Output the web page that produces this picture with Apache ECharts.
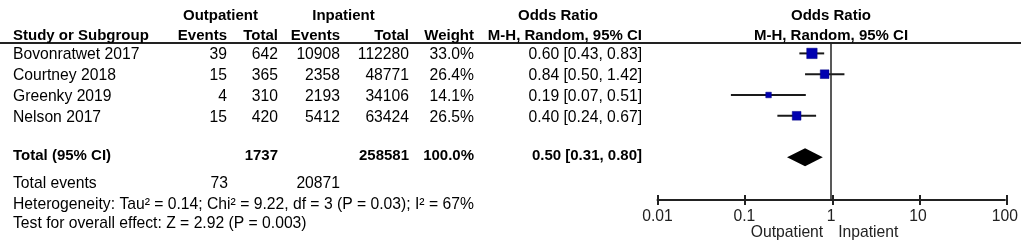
<!DOCTYPE html>
<html><head><meta charset="utf-8">
<script src="https://cdn.jsdelivr.net/npm/echarts@6/dist/echarts.min.js"></script>
<style>html,body{margin:0;padding:0;background:#fff}#c{width:1021px;height:252px}</style>
</head><body><div id="c"></div>
<script>
// ---- data ----
const studies = ['Bovonratwet 2017', 'Courtney 2018', 'Greenky 2019', 'Nelson 2017'];
const outEvents = [39, 15, 4, 15];
const outTotal = [642, 365, 310, 420];
const inEvents = [10908, 2358, 2193, 5412];
const inTotal = [112280, 48771, 34106, 63424];
const weights = [33.0, 26.4, 14.1, 26.5];
const orVal = [0.60, 0.84, 0.19, 0.40];
const ciLow = [0.43, 0.50, 0.07, 0.24];
const ciHigh = [0.83, 1.42, 0.51, 0.67];
const totalLabel = 'Total (95% CI)';
const totalOut = 1737;
const totalIn = 258581;
const totalWeight = 100.0;
const pooled = [0.50, 0.31, 0.80]; // estimate, low, high
const totalEventsOut = 73;
const totalEventsIn = 20871;
const heterogeneityText = 'Heterogeneity: Tau\u00b2 = 0.14; Chi\u00b2 = 9.22, df = 3 (P = 0.03); I\u00b2 = 67%';
const overallText = 'Test for overall effect: Z = 2.92 (P = 0.003)';
const tickLabels = ['0.01', '0.1', '1', '10', '100'];
const favourLeft = 'Outpatient';
const favourRight = 'Inpatient';

// ---- helpers ----
const FONT = '"Liberation Sans", Arial, sans-serif';
const FS = 15;     // bold
const FSR = 15.7;  // regular
const fmt2 = v => v.toFixed(2);
const orText = (e, l, h) => fmt2(e) + ' [' + fmt2(l) + ', ' + fmt2(h) + ']';
const totalRow = studies.length + 1;

const chart = echarts.init(document.getElementById('c'), null, {renderer: 'canvas'});

const studyData = studies.map((s, i) => [i, orVal[i], ciLow[i], ciHigh[i], weights[i]]);
const diamondData = [[totalRow, pooled[0], pooled[1], pooled[2]]];

chart.setOption({
  animation: false,
  backgroundColor: '#fff',
  grid: [
    {left: 657.5, width: 349.5, top: 43, height: 157, containLabel: false},
    {left: 657.5, width: 349.5, top: 195, height: 10, containLabel: false}
  ],
  xAxis: [
    {
      type: 'log', logBase: 10, min: 0.01, max: 100, gridIndex: 0, position: 'bottom',
      splitLine: {show: false}, minorTick: {show: false},
      axisLine: {show: true, onZero: false, lineStyle: {color: '#222', width: 2}},
      axisTick: {show: false},
      axisLabel: {
        show: true, margin: 9, color: '#222', fontFamily: FONT, fontSize: FSR,
        formatter: v => tickLabels[Math.round(Math.log10(v)) + 2]
      }
    },
    {
      type: 'log', logBase: 10, min: 0.01, max: 100, gridIndex: 1,
      axisLine: {show: false, onZero: false}, axisTick: {show: false}, axisLabel: {show: false},
      minorTick: {show: false},
      splitLine: {show: true, showMinLine: true, showMaxLine: true,
        lineStyle: {color: '#222', width: 2}}
    }
  ],
  yAxis: [
    {type: 'value', inverse: true, min: -0.5, max: 7.05, show: false, gridIndex: 0},
    {type: 'value', min: 0, max: 1, show: false, gridIndex: 1}
  ],
  series: [
    {
      type: 'custom', xAxisIndex: 0, yAxisIndex: 0, data: studyData,
      encode: {x: [1, 2, 3], y: 0},
      renderItem: (params, api) => {
        const row = api.value(0);
        const c = api.coord([api.value(1), row]);
        const l = api.coord([api.value(2), row]);
        const h = api.coord([api.value(3), row]);
        const s = 2 + 0.255 * api.value(4);
        return {
          type: 'group',
          children: [
            {type: 'line', shape: {x1: l[0], y1: c[1], x2: h[0], y2: c[1]},
             style: {stroke: '#1a1a1a', lineWidth: 2}},
            {type: 'rect', shape: {x: c[0] - s / 2, y: c[1] - s / 2, width: s, height: s},
             style: {fill: '#0000b0', stroke: '#000080', lineWidth: 0.5}}
          ]
        };
      },
      markLine: {
        silent: true, symbol: 'none', label: {show: false},
        lineStyle: {color: '#222', width: 1.5, type: 'solid'},
        data: [{xAxis: 1}]
      },
      z: 3
    },
    {
      type: 'custom', xAxisIndex: 0, yAxisIndex: 0, data: diamondData,
      encode: {x: [1, 2, 3], y: 0},
      renderItem: (params, api) => {
        const row = api.value(0);
        const e = api.coord([api.value(1), row]);
        const l = api.coord([api.value(2), row]);
        const h = api.coord([api.value(3), row]);
        const hh = 9;
        return {
          type: 'polygon',
          shape: {points: [[l[0], e[1]], [e[0], e[1] - hh], [h[0], e[1]], [e[0], e[1] + hh]]},
          style: {fill: '#000'}
        };
      },
      z: 3
    }
  ]
});

// ---- table text ----
function txt(text, x, y, align, bold, color) {
  return {
    type: 'text', silent: true, z: 10,
    style: {
      text: String(text), x: x, y: y,
      align: align || 'left', verticalAlign: 'middle',
      textAlign: align || 'left', textVerticalAlign: 'middle',
      font: (bold ? 'bold ' + FS : FSR) + 'px ' + FONT,
      fill: color || '#000'
    }
  };
}
const rowY = i => chart.convertToPixel({xAxisIndex: 0, yAxisIndex: 0}, [1, i])[1];

const COL = {name: 13, oe: 227, ot: 278, ie: 340, it: 409, w: 474, or: 642};
const els = [];
// headers
els.push(txt('Outpatient', 220.5, 15.5, 'center', true));
els.push(txt('Inpatient', 343.5, 15.5, 'center', true));
els.push(txt('Odds Ratio', 558, 15.5, 'center', true));
els.push(txt('Odds Ratio', 831, 15.5, 'center', true));
els.push(txt('Study or Subgroup', COL.name, 35.5, 'left', true));
els.push(txt('Events', COL.oe, 35.5, 'right', true));
els.push(txt('Total', COL.ot, 35.5, 'right', true));
els.push(txt('Events', COL.ie, 35.5, 'right', true));
els.push(txt('Total', COL.it, 35.5, 'right', true));
els.push(txt('Weight', COL.w, 35.5, 'right', true));
els.push(txt('M-H, Random, 95% CI', COL.or, 35.5, 'right', true));
els.push(txt('M-H, Random, 95% CI', 831, 35.5, 'center', true));
els.push({type: 'line', silent: true, z: 9,
  shape: {x1: 0, y1: 43, x2: 1021, y2: 43}, style: {stroke: '#222', lineWidth: 2}});
// study rows
studies.forEach((s, i) => {
  const y = rowY(i) + 1.5;
  els.push(txt(s, COL.name, y, 'left'));
  els.push(txt(outEvents[i], COL.oe, y, 'right'));
  els.push(txt(outTotal[i], COL.ot, y, 'right'));
  els.push(txt(inEvents[i], COL.ie, y, 'right'));
  els.push(txt(inTotal[i], COL.it, y, 'right'));
  els.push(txt(weights[i].toFixed(1) + '%', COL.w, y, 'right'));
  els.push(txt(orText(orVal[i], ciLow[i], ciHigh[i]), COL.or, y, 'right'));
});
// total row
const ty = rowY(totalRow) - 1.5;
els.push(txt(totalLabel, COL.name, ty, 'left', true));
els.push(txt(totalOut, COL.ot, ty, 'right', true));
els.push(txt(totalIn, COL.it, ty, 'right', true));
els.push(txt(totalWeight.toFixed(1) + '%', COL.w, ty, 'right', true));
els.push(txt(orText(pooled[0], pooled[1], pooled[2]), COL.or, ty, 'right', true));
// footer
els.push(txt('Total events', COL.name, 184, 'left'));
els.push(txt(totalEventsOut, COL.oe + 1, 184, 'right'));
els.push(txt(totalEventsIn, COL.ie, 184, 'right'));
els.push(txt(heterogeneityText, COL.name, 204.5, 'left'));
els.push(txt(overallText, COL.name, 224, 'left'));
// favours labels
const one = chart.convertToPixel({xAxisIndex: 0, yAxisIndex: 0}, [1, 0])[0];
els.push(txt(favourLeft, one - 8, 233, 'right', false, '#222'));
els.push(txt(favourRight, one + 7, 233, 'left', false, '#222'));

chart.setOption({graphic: {elements: els}});
</script>
</body></html>
